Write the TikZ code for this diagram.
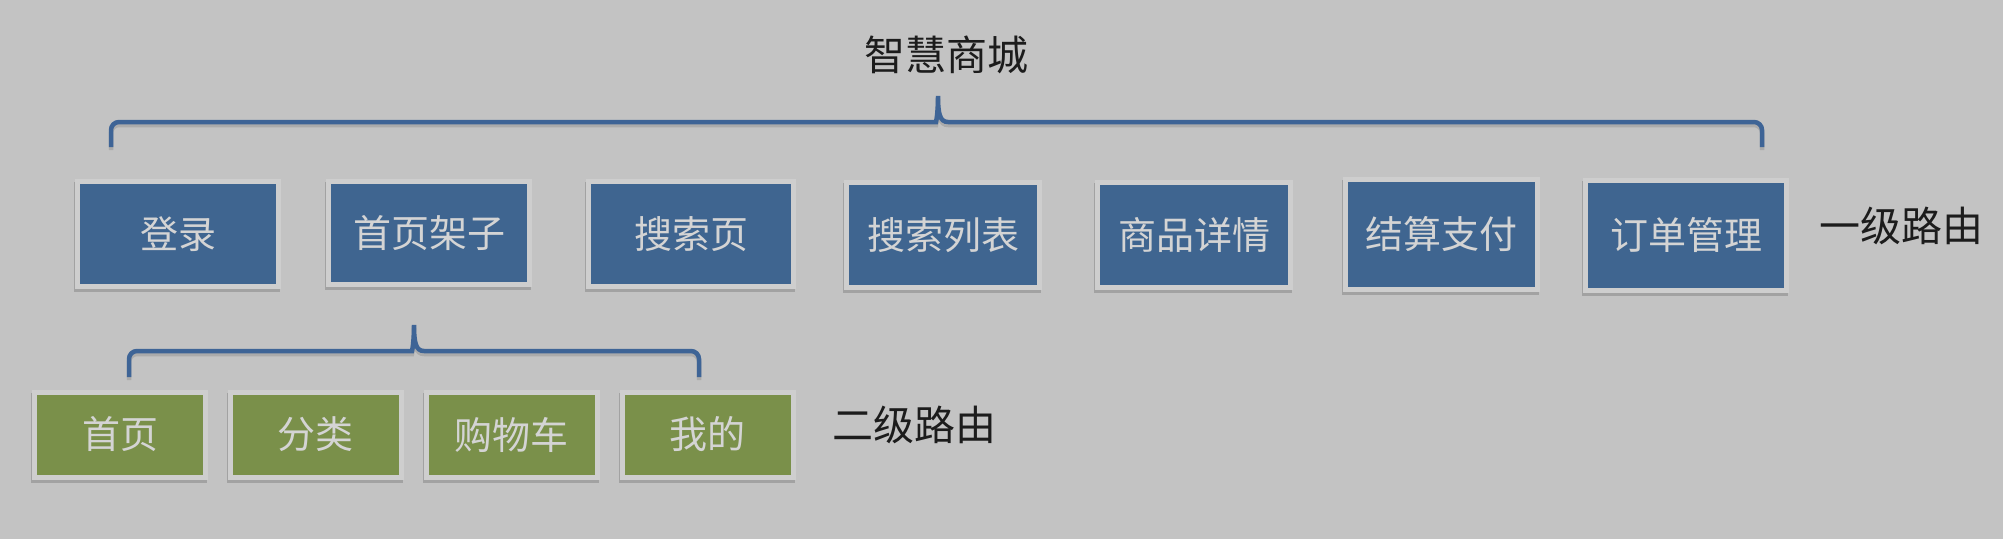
\documentclass[tikz,border=0pt]{standalone}
\usepackage{fontspec}
\setmainfont{Noto Sans CJK SC}
\usepackage{tikz}
\usetikzlibrary{positioning}

\definecolor{bggray}{RGB}{195,195,195}
\definecolor{framegray}{RGB}{206,206,206}
\definecolor{routeblue}{RGB}{63,101,144}
\definecolor{routegreen}{RGB}{122,144,74}
\definecolor{braceblue}{RGB}{62,100,150}
\definecolor{boxtext}{RGB}{212,212,212}
\definecolor{labeltext}{RGB}{28,28,28}

\begin{document}
\begin{tikzpicture}[x=1pt,y=-1pt,
  page/.style={draw=framegray, line width=5pt, inner sep=0pt, text=boxtext,
    font=\fontsize{38}{38}\selectfont,
    preaction={draw=black!60, line width=5pt, opacity=.35,
      transform canvas={xshift=-1pt,yshift=-3pt}}},
  first/.style={page, fill=routeblue, minimum width=201pt, minimum height=105pt},
  second/.style={page, fill=routegreen, minimum width=171pt, minimum height=85pt},
  brace/.style={draw=braceblue, line width=4.5pt,
    preaction={draw=black, line width=4.5pt, opacity=.12,
      transform canvas={yshift=-3pt}}},
  routelabel/.style={text=labeltext, font=\fontsize{41}{41}\selectfont}]
\fill [bggray] (0,0) rectangle (2003,539);
\useasboundingbox (0,0) rectangle (2003,539);
% titles
\node [routelabel] (mall) at (946,55) {智慧商城};
\node [routelabel] (level1) at (1901,226) {一级路由};
\node [routelabel] (level2) at (914,425) {二级路由};
% first level
\node [first] (login) at (178,234) {登录};
\node [first, minimum height=103pt] (home) at (429,233) {首页架子};
\node [first, minimum width=205pt] (search) at (691,234) {搜索页};
\node [first, minimum width=193pt] (list) at (943,235) {搜索列表};
\node [first, minimum width=193pt] (detail) at (1194,235) {商品详情};
\node [first, minimum width=192pt, minimum height=110pt] (pay) at (1441,234) {结算支付};
\node [first, minimum height=110pt] (order) at (1686,235) {订单管理};
% second level
\node [second] (index) at (120,434.5) {首页};
\node [second] (category) at (315.6,434.5) {分类};
\node [second] (cart) at (511.6,434.5) {购物车};
\node [second] (mine) at (707.5,434.5) {我的};
% braces
\coordinate (mallL) at (111,147);
\coordinate (mallTip) at (938,96);
\coordinate (mallR) at (1762,147);
\coordinate (homeL) at (129,377);
\coordinate (homeTip) at (414,325);
\coordinate (homeR) at (699,377);
\draw [brace] (mallL) [rounded corners=8pt] -- (111,122) -- (928,122)
  [sharp corners] .. controls (936,122) and (938,114) .. (mallTip)
  .. controls (938,114) and (940,122) .. (948,122)
  [rounded corners=8pt] -- (1762,122) -- (mallR);
\draw [brace] (homeL) [rounded corners=8pt] -- (129,351) -- (404,351)
  [sharp corners] .. controls (412,351) and (414,343) .. (homeTip)
  .. controls (414,343) and (416,351) .. (424,351)
  [rounded corners=8pt] -- (699,351) -- (homeR);
\end{tikzpicture}
\end{document}
